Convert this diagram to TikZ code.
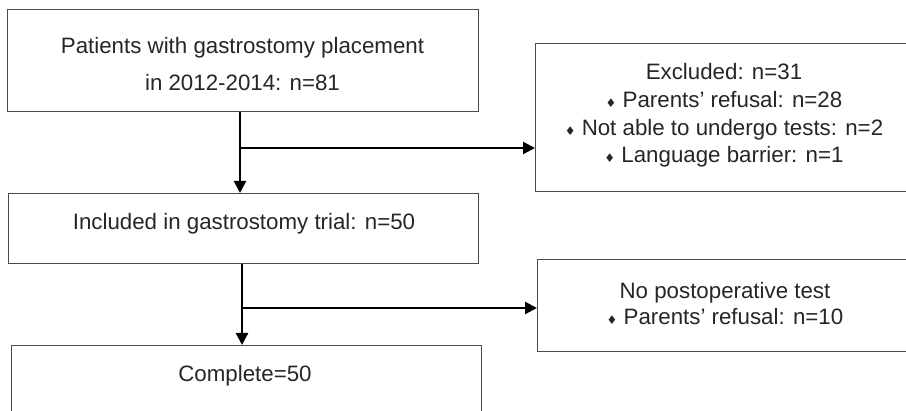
\documentclass[tikz,border=0pt]{standalone}
\usepackage{fontspec}
\setmainfont{Liberation Sans}
\newfontfamily\symfont{DejaVu Sans}
\usetikzlibrary{arrows.meta}
\newcommand\bul{{\fontsize{12}{12}\selectfont\symfont ♦}\ }
\tikzset{
  box/.style={draw=black!70, line width=1pt, fill=white, anchor=north west, inner sep=0pt},
  txt/.style={anchor=base, align=center, inner sep=0pt, text=black!85},
  arr/.style={line width=2.4pt, -{Triangle[width=12pt,length=12pt]}},
}
\begin{document}
\begin{tikzpicture}[x=1pt, y=-1pt]
\useasboundingbox (0,0) rectangle (906,411);
\clip (0,0) rectangle (906,411);
\fill[white] (0,0) rectangle (906,411);
% boxes
\node[box, minimum width=471pt, minimum height=102pt] (b1) at (7,9) {};
\node[box, minimum width=470pt, minimum height=70pt] (b2) at (8,193) {};
\node[box, minimum width=470pt, minimum height=100pt] (b3) at (11,345) {};
\node[box, minimum width=380pt, minimum height=148pt] (b4) at (535,43) {};
\node[box, minimum width=378pt, minimum height=92pt] (b5) at (537,259) {};
% texts (base anchor = last line baseline)
\node[txt, font=\fontsize{22.3}{37}\selectfont] (t1) at (242.5,91) {Patients with gastrostomy placement\\in 2012-2014: n=81};
\node[txt, font=\fontsize{22.3}{27}\selectfont] (t2) at (244,230) {Included in gastrostomy trial: n=50};
\node[txt, font=\fontsize{22.3}{27}\selectfont] (t3) at (245,382) {Complete=50};
\node[txt, font=\fontsize{22.3}{27.7}\selectfont] (t4) at (724,163) {Excluded: n=31\\\bul Parents’ refusal: n=28\\\bul Not able to undergo tests: n=2\\\bul Language barrier: n=1};
\node[txt, font=\fontsize{22.3}{26.5}\selectfont] (t5) at (725,325) {No postoperative test\\\bul Parents’ refusal: n=10};
% connectors
\coordinate (j1) at (240,148);
\coordinate (j2) at (242,308);
\draw[arr] (b1.south -| j1) -- (b2.north -| j1);
\draw[arr] (j1) -- (j1 -| b4.west);
\draw[arr] (b2.south -| j2) -- (b3.north -| j2);
\draw[arr] (j2) -- (j2 -| b5.west);
\end{tikzpicture}
\end{document}
